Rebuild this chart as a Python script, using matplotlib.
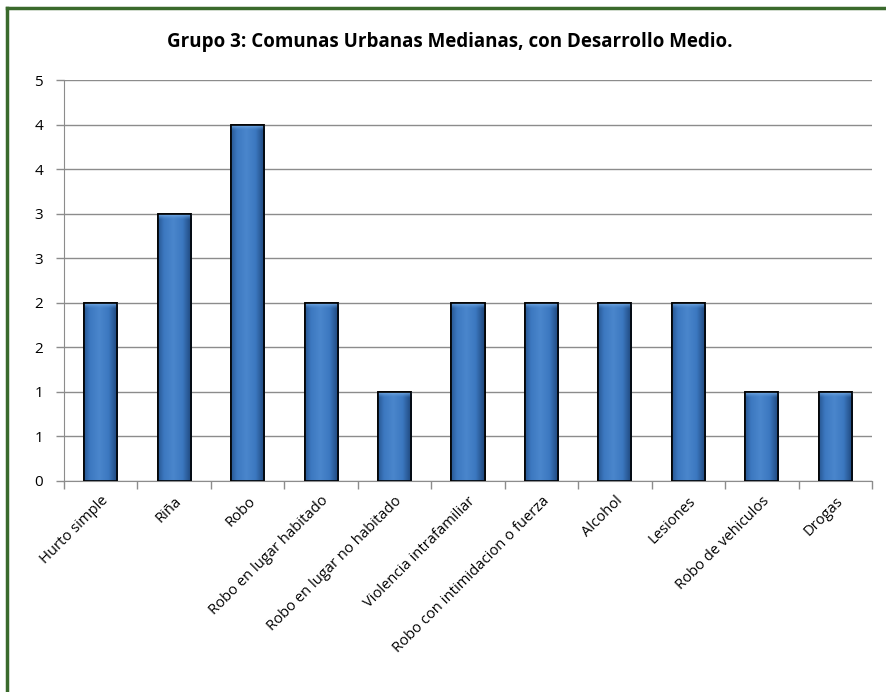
import numpy as np
import matplotlib
matplotlib.use('Agg')
import matplotlib.pyplot as plt
from matplotlib.lines import Line2D

categorias = ['Hurto simple', 'Riña', 'Robo', 'Robo en lugar habitado',
              'Robo en lugar no habitado', 'Violencia intrafamiliar',
              'Robo con intimidacion o fuerza', 'Alcohol', 'Lesiones',
              'Robo de vehiculos', 'Drogas']
valores = [2, 3, 4, 2, 1, 2, 2, 2, 2, 1, 1]
yticks = [0, 0.5, 1, 1.5, 2, 2.5, 3, 3.5, 4, 4.5]
ytick_labels = ['0', '1', '1', '2', '2', '3', '3', '4', '4', '5']
titulo = 'Grupo 3: Comunas Urbanas Medianas, con Desarrollo Medio.'

plt.rcParams['font.family'] = ['Open Sans', 'DejaVu Sans']

fig = plt.figure(figsize=(8.86, 6.92), dpi=100)
ax = fig.add_axes([64 / 886, 1 - 481 / 692, (872 - 64) / 886, (481 - 80) / 692])

x = np.arange(len(categorias))
bars = ax.bar(x, valores, width=0.45, color='#3a70b3', edgecolor='black',
              linewidth=1.2, zorder=3)

# horizontal gradient on each bar (dark edges, lighter centre)
grad = np.linspace(0, 1, 64)
grad = 1 - np.abs(grad - 0.45) * 1.8
grad = np.clip(grad, 0, 1)[None, :]
cmap = matplotlib.colors.LinearSegmentedColormap.from_list(
    'barra', ['#1c4478', '#3c78c0', '#4a86cc'])
hl_cmap = matplotlib.colors.LinearSegmentedColormap.from_list(
    'hl', [(0.29, 0.53, 0.8, 0), (0.55, 0.75, 0.95, 1)])
for b in bars:
    x0, y0 = b.get_x(), b.get_y()
    w, h = b.get_width(), b.get_height()
    im = ax.imshow(grad, extent=[x0, x0 + w, y0, y0 + h], aspect='auto',
                   cmap=cmap, vmin=0, vmax=1, zorder=3.5)
    im.set_clip_path(b)
    # light highlight at top of bar
    top = np.linspace(1, 0, 16)[:, None] * np.ones((1, 64))
    hl = ax.imshow(top, extent=[x0, x0 + w, y0 + h - 0.07, y0 + h],
                   aspect='auto', cmap=hl_cmap, vmin=0, vmax=1, zorder=3.6)
    hl.set_clip_path(b)
    ax.add_patch(plt.Rectangle((x0, y0), w, h, fill=False, edgecolor='black',
                               linewidth=1.2, zorder=4))

ax.set_xlim(-0.5, len(categorias) - 0.5)
ax.set_ylim(0, 4.5)
ax.set_yticks(yticks)
ax.set_yticklabels(ytick_labels, fontsize=11)
ax.yaxis.grid(True, color='#8c8c8c', linewidth=1)
ax.set_axisbelow(True)

ax.set_xticks(np.arange(len(categorias) + 1) - 0.5)
ax.set_xticklabels([])
ax.set_xticks(x, minor=True)
ax.set_xticklabels(categorias, minor=True, rotation=45, ha='right',
                   rotation_mode='anchor', fontsize=10.6)
ax.tick_params(axis='x', which='minor', length=0, pad=9)
ax.tick_params(axis='both', which='major', length=6, color='#8c8c8c', width=1)
ax.tick_params(axis='y', pad=9)

for s in ['top', 'right']:
    ax.spines[s].set_visible(False)
for s in ['left', 'bottom']:
    ax.spines[s].set_color('#8c8c8c')

fig.text(450 / 886, 1 - 42 / 692, titulo, ha='center', va='center',
         fontsize=13.5, fontweight='bold')

# green frame (top and left only visible in the crop)
fig.add_artist(Line2D([7 / 886, 1], [1 - 8 / 692, 1 - 8 / 692],
                      transform=fig.transFigure, color='#3a6a2c', linewidth=2.5))
fig.add_artist(Line2D([7 / 886, 7 / 886], [0, 1 - 8 / 692],
                      transform=fig.transFigure, color='#3a6a2c', linewidth=2.5))

fig.savefig('out.png', dpi=100)
